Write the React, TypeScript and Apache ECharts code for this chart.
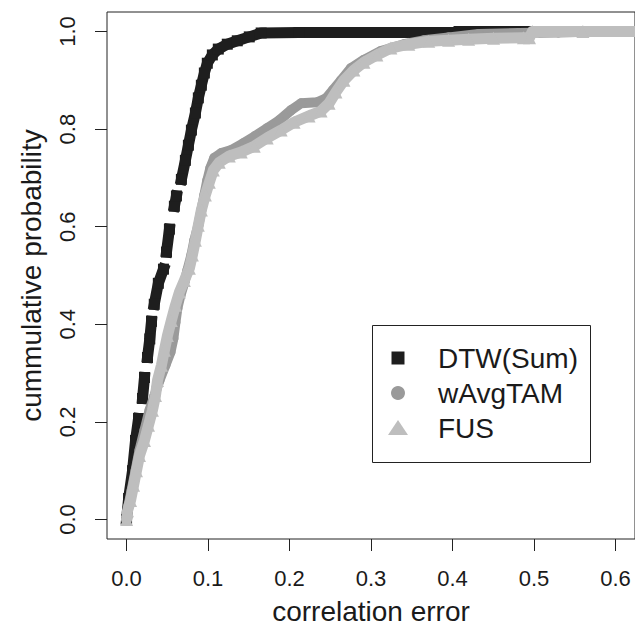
import React, { useEffect, useRef } from "react";
import * as echarts from "echarts";

const xTicks = [0, 0.1, 0.2, 0.3, 0.4, 0.5, 0.6];
const yTicks = [0, 0.2, 0.4, 0.6, 0.8, 1.0];
const xTitle = "correlation error";
const yTitle = "cummulative probability";
const seriesNames = ["DTW(Sum)", "wAvgTAM", "FUS"];

// DTW(Sum): cumulative probability vs correlation error (pieces separated where the picture shows gaps)
const dtwSegments: number[][][] = [
  [[0, 0], [0.0025, 0.043], [0.0073, 0.1], [0.011, 0.162], [0.0147, 0.207]],
  [[0.0196, 0.248], [0.022, 0.291]],
  [[0.0257, 0.332], [0.0285, 0.37], [0.0306, 0.406]],
  [[0.034, 0.441], [0.039, 0.484], [0.0453, 0.513]],
  [[0.049, 0.548], [0.0526, 0.595]],
  [[0.0587, 0.642], [0.0612, 0.663]],
  [
    [0.0673, 0.697], [0.0722, 0.736], [0.0759, 0.767], [0.0796, 0.798], [0.0845, 0.833],
    [0.0881, 0.864], [0.0918, 0.89], [0.0955, 0.915], [0.0991, 0.935], [0.1053, 0.952],
    [0.1126, 0.964], [0.1236, 0.974], [0.1359, 0.981], [0.1506, 0.989], [0.1652, 0.997],
    [0.2117, 0.998], [0.3, 0.998], [0.404, 0.998], [0.408, 1.0], [0.49, 1.0],
  ],
];

const wavgtam: number[][] = [
  [0, 0], [0.0024, 0.029], [0.0061, 0.059], [0.011, 0.1], [0.0159, 0.142], [0.022, 0.183],
  [0.0282, 0.224], [0.0343, 0.254], [0.0404, 0.285], [0.0477, 0.316], [0.0539, 0.343],
  [0.0575, 0.371], [0.06, 0.404], [0.0624, 0.433], [0.0661, 0.459], [0.071, 0.486],
  [0.0747, 0.511], [0.0796, 0.542], [0.0832, 0.572], [0.0881, 0.603], [0.0918, 0.634],
  [0.0955, 0.665], [0.0991, 0.695], [0.1028, 0.72], [0.1077, 0.741], [0.1163, 0.751],
  [0.1285, 0.757], [0.1432, 0.771], [0.1579, 0.786], [0.1726, 0.802], [0.1873, 0.818],
  [0.202, 0.839], [0.2142, 0.853], [0.2338, 0.855], [0.2448, 0.863], [0.2534, 0.88],
  [0.2632, 0.9], [0.2754, 0.925], [0.2913, 0.942], [0.3121, 0.96], [0.3403, 0.974],
  [0.3647, 0.982], [0.3953, 0.988], [0.432, 0.995], [0.481, 0.997], [0.53, 0.998],
  [0.5765, 1.0],
];

const fus: number[][] = [
  [0, 0], [0.0012, 0.018], [0.0049, 0.039], [0.0086, 0.07], [0.0122, 0.1], [0.0159, 0.131],
  [0.022, 0.162], [0.0269, 0.193], [0.0318, 0.224], [0.0355, 0.254], [0.038, 0.285],
  [0.0428, 0.316], [0.0465, 0.347], [0.0502, 0.377], [0.055, 0.408], [0.06, 0.439],
  [0.0649, 0.466], [0.071, 0.49], [0.0771, 0.515], [0.0808, 0.542], [0.0845, 0.572],
  [0.0881, 0.603], [0.0918, 0.634], [0.0967, 0.665], [0.1016, 0.691], [0.1065, 0.716],
  [0.1138, 0.732], [0.1261, 0.745], [0.1408, 0.753], [0.1567, 0.765], [0.1726, 0.782],
  [0.1897, 0.798], [0.2056, 0.814], [0.224, 0.827], [0.2387, 0.837], [0.2485, 0.853],
  [0.257, 0.876], [0.2668, 0.9], [0.279, 0.921], [0.2913, 0.937], [0.3072, 0.952],
  [0.3244, 0.966], [0.3464, 0.974], [0.3709, 0.98], [0.3953, 0.982], [0.4198, 0.984],
  [0.4504, 0.986], [0.4871, 0.987], [0.4945, 0.987], [0.498, 1.0], [0.56, 1.0], [0.63, 1.0],
];

const COLORS = ["#1e1e1e", "#9a9a9a", "#bebebe"];
const FONT = '"Liberation Sans", Arial, sans-serif';
const TEXT = "#1a1a1a";

export default function App() {
  const ref = useRef<HTMLDivElement>(null);

  useEffect(() => {
    if (!ref.current) return;
    const chart = echarts.init(ref.current, null, { renderer: "svg" });

    const dtwSeries = dtwSegments.map((seg) => ({
      name: seriesNames[0],
      type: "line",
      data: seg,
      showSymbol: true,
      symbol: "rect",
      symbolSize: 11,
      itemStyle: { color: COLORS[0] },
      lineStyle: { color: COLORS[0], width: 11, cap: "square", join: "round" },
      z: 2,
      silent: true,
    }));

    const legendText = (i: number, y: number) => ({
      type: "text",
      x: 438,
      y,
      style: {
        text: seriesNames[i],
        fontSize: 28,
        fontFamily: FONT,
        fill: TEXT,
        verticalAlign: "middle",
        align: "left",
      },
      z: 11,
    });

    const option: any = {
      animation: false,
      backgroundColor: "#ffffff",
      grid: {
        left: 107,
        top: 12,
        width: 530,
        height: 527,
        show: true,
        borderColor: "#222",
        borderWidth: 1,
        backgroundColor: "transparent",
      },
      xAxis: {
        type: "value",
        min: -0.024,
        max: 0.624,
        name: xTitle,
        nameLocation: "middle",
        nameGap: 58,
        nameTextStyle: { fontSize: 28, fontFamily: FONT, color: TEXT },
        axisLine: { show: false, onZero: false },
        axisTick: { show: true, length: 12, customValues: xTicks, lineStyle: { color: "#222" } },
        axisLabel: {
          customValues: xTicks,
          margin: 28,
          fontSize: 22,
          fontFamily: FONT,
          color: TEXT,
          formatter: (v: number) => v.toFixed(1),
        },
        splitLine: { show: false },
      },
      yAxis: {
        type: "value",
        min: -0.04,
        max: 1.04,
        name: yTitle,
        nameLocation: "middle",
        nameGap: 62,
        nameRotate: 90,
        nameTextStyle: { fontSize: 28, fontFamily: FONT, color: TEXT },
        axisLine: { show: false, onZero: false },
        axisTick: { show: true, length: 12, customValues: yTicks, lineStyle: { color: "#222" } },
        axisLabel: {
          customValues: yTicks,
          rotate: 90,
          margin: 29,
          fontSize: 22,
          fontFamily: FONT,
          color: TEXT,
          formatter: (v: number) => v.toFixed(1),
        },
        splitLine: { show: false },
      },
      series: [
        ...dtwSeries,
        {
          name: seriesNames[1],
          type: "line",
          data: wavgtam,
          showSymbol: true,
          symbol: "circle",
          symbolSize: 10,
          itemStyle: { color: COLORS[1] },
          lineStyle: { color: COLORS[1], width: 10, cap: "round", join: "round" },
          z: 3,
          silent: true,
        },
        {
          name: seriesNames[2],
          type: "line",
          data: fus,
          showSymbol: true,
          symbol: "triangle",
          symbolSize: 13,
          itemStyle: { color: COLORS[2] },
          lineStyle: { color: COLORS[2], width: 11, cap: "round", join: "round" },
          z: 4,
          silent: true,
        },
      ],
      graphic: [
        {
          type: "rect",
          shape: { x: 372.5, y: 325.5, width: 218, height: 137 },
          style: { fill: "#ffffff", stroke: "#222", lineWidth: 1 },
          z: 10,
        },
        {
          type: "rect",
          shape: { x: 391.5, y: 351.5, width: 13, height: 13 },
          style: { fill: COLORS[0] },
          z: 11,
        },
        {
          type: "circle",
          shape: { cx: 398, cy: 393, r: 7 },
          style: { fill: COLORS[1] },
          z: 11,
        },
        {
          type: "polygon",
          shape: { points: [[388, 435], [408, 435], [398, 420]] },
          style: { fill: COLORS[2] },
          z: 11,
        },
        legendText(0, 358),
        legendText(1, 393),
        legendText(2, 428),
      ],
    };

    chart.setOption(option);
    return () => chart.dispose();
  }, []);

  return (
    <div
      ref={ref}
      style={{ position: "fixed", left: 0, top: 0, width: 635, height: 632, background: "#fff" }}
    />
  );
}
